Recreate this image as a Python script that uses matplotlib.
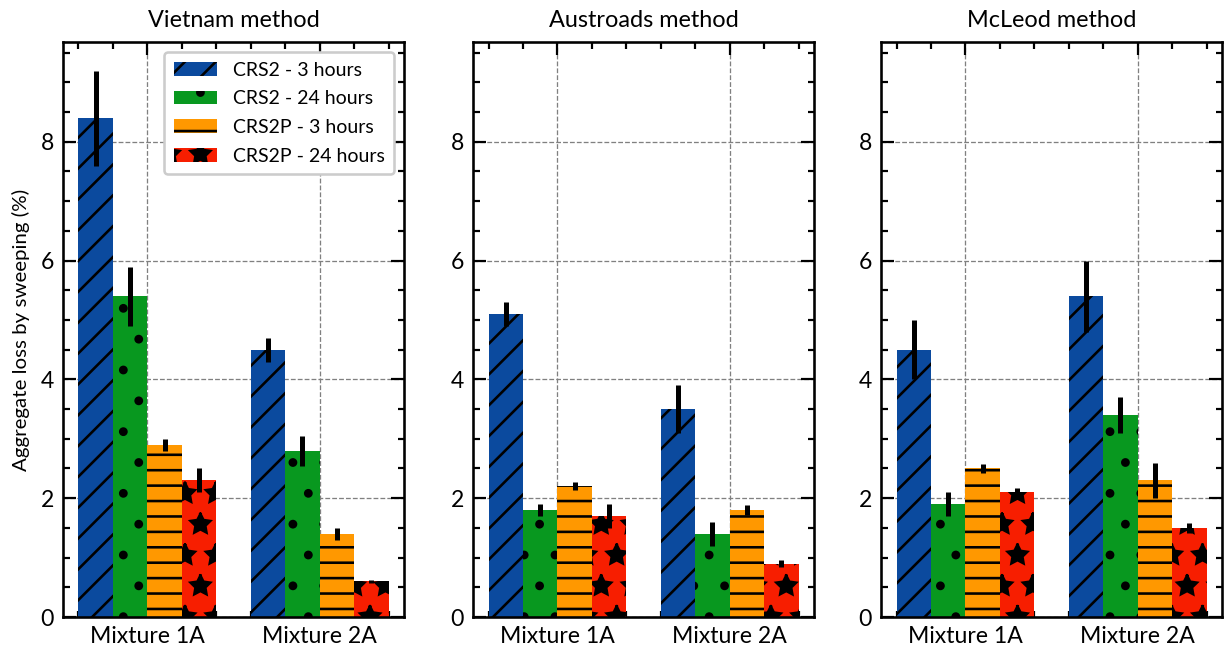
import numpy as np
import matplotlib
matplotlib.use('Agg')
from matplotlib import pyplot as plt
from matplotlib.ticker import MultipleLocator

dpi = 185


def pt(px):
    # pixel size -> points at the output dpi
    return px * 72 / dpi


plt.rcParams['font.family'] = ['Lato', 'DejaVu Sans']
plt.rcParams['hatch.linewidth'] = pt(2.6)

# Data
mixtures = ['Mixture 1A', 'Mixture 2A']
series = ['CRS2 - 3 hours', 'CRS2 - 24 hours', 'CRS2P - 3 hours', 'CRS2P - 24 hours']
methods = ['Vietnam method', 'Austroads method', 'McLeod method']

# values[method][series] -> [1A, 2A]
vietnam = [[8.4, 4.5], [5.4, 2.8], [2.9, 1.4], [2.3, 0.6]]
vietnam_err = [[0.8, 0.2], [0.5, 0.25], [0.1, 0.1], [0.2, 0.03]]
austroads = [[5.1, 3.5], [1.8, 1.4], [2.2, 1.8], [1.7, 0.9]]
austroads_err = [[0.2, 0.4], [0.1, 0.2], [0.07, 0.08], [0.2, 0.06]]
mcleod = [[4.5, 5.4], [1.9, 3.4], [2.5, 2.3], [2.1, 1.5]]
mcleod_err = [[0.5, 0.6], [0.2, 0.3], [0.08, 0.3], [0.08, 0.08]]

values = [vietnam, austroads, mcleod]
errors = [vietnam_err, austroads_err, mcleod_err]

colors = ['#0b4a9e', '#08981f', '#ff9800', '#f71e00']
hatches = ['//', '.', '--', '*']

# Figure
fig = plt.figure(figsize=(1231 / dpi, 653 / dpi), dpi=dpi)
lefts = [63, 473, 881]
width_px = 341
bottom = 1 - 617 / 653
height = (617 - 42) / 653

x = np.arange(len(mixtures))
w = 0.2
offsets = [-0.3, -0.1, 0.1, 0.3]

for i, method in enumerate(methods):
    ax = fig.add_axes([lefts[i] / 1231, bottom, width_px / 1231, height])
    for j in range(len(series)):
        ax.bar(x + offsets[j], values[i][j], w, yerr=errors[i][j],
               color=colors[j], hatch=hatches[j], linewidth=0,
               label=series[j],
               error_kw=dict(elinewidth=pt(5), capsize=0, ecolor='black'))
    ax.set_xticks(x)
    ax.set_xticklabels(mixtures, fontsize=pt(23))
    ax.set_ylim(0, 9.68)
    ax.set_xlim(-0.49, 1.49)
    ax.set_yticks([0, 2, 4, 6, 8])
    ax.xaxis.set_minor_locator(MultipleLocator(0.2))
    ax.yaxis.set_minor_locator(MultipleLocator(0.5))
    ax.tick_params(which='both', direction='in', top=True, right=True,
                   labelsize=pt(23), pad=pt(9))
    ax.tick_params(which='major', length=pt(13), width=pt(2.2))
    ax.tick_params(which='minor', length=pt(6.5), width=pt(2.2))
    for s in ax.spines.values():
        s.set_linewidth(pt(2.6))
    ax.grid(True, which='major', ls='--', color='grey', lw=pt(1.3))
    ax.set_axisbelow(True)
    ax.set_title(method, fontsize=pt(23.5), pad=pt(15))
    if i == 0:
        ax.set_ylabel('Aggregate loss by sweeping (%)', fontsize=pt(20.5))
        ax.legend(loc='upper right', fontsize=pt(19.5), handlelength=2.2,
                  framealpha=1, edgecolor='#cccccc', borderpad=0.5,
                  labelspacing=0.6)

fig.savefig('out.png', dpi=dpi)
